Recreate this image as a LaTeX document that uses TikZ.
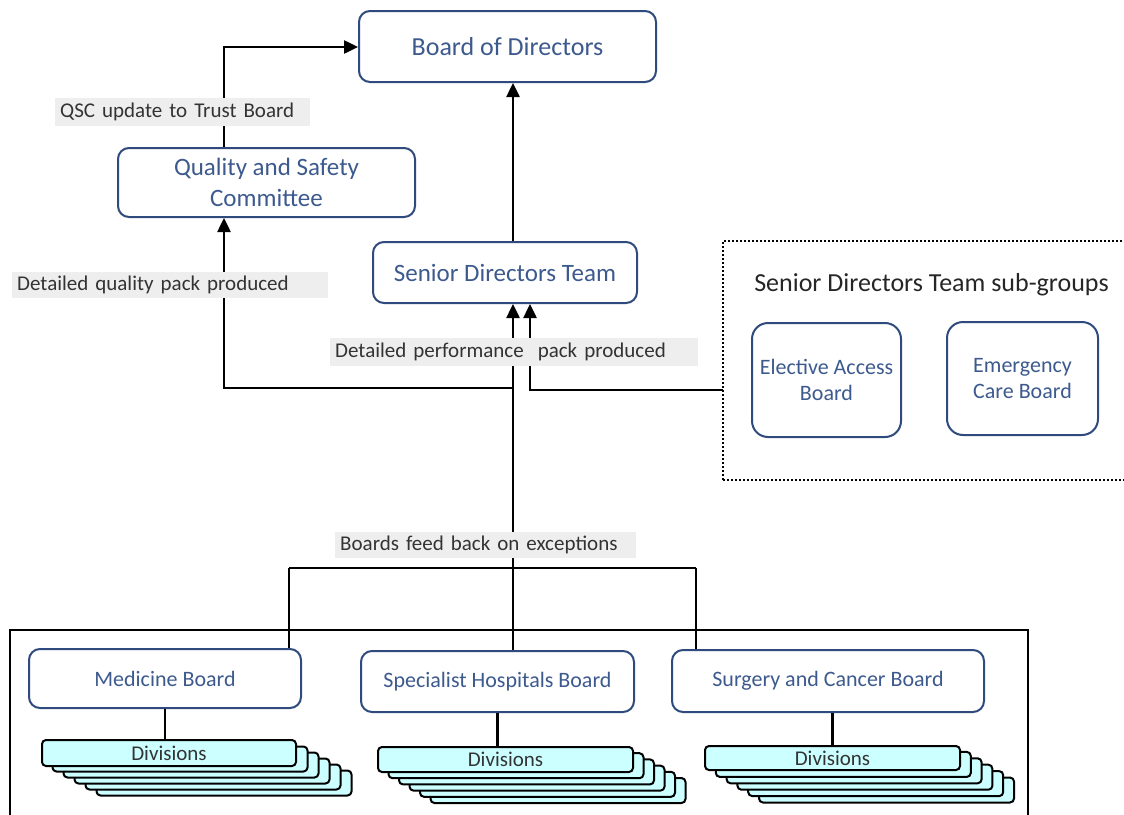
\documentclass[tikz,border=0pt]{standalone}
\usepackage{fontspec}
\setmainfont{Carlito}
\usetikzlibrary{arrows.meta,positioning}
\definecolor{boxblue}{HTML}{2F4B7E}
\definecolor{boxtext}{HTML}{3D5A8E}
\definecolor{labelgray}{HTML}{EEEEEE}
\definecolor{divcyan}{HTML}{CCFFFF}

\begin{document}
\begin{tikzpicture}[x=1pt,y=-1pt,
  board/.style={draw=boxblue, line width=2pt, rounded corners=11pt, fill=white,
    text=boxtext, align=center, inner sep=0pt},
  wire/.style={line width=2.5pt, black},
  upto/.style={wire, -{Triangle[length=14pt,width=13pt]}},
  packlabel/.style={fill=labelgray, text=black!80, anchor=west, align=left,
    inner xsep=5pt, inner ysep=0pt, font=\fontsize{21}{25}\selectfont},
  divcard/.style={draw=black, line width=2pt, fill=divcyan, rounded corners=4pt,
    inner sep=0pt, minimum width=255, minimum height=25, text=black!80,
    font=\fontsize{21}{25}\selectfont}]
\useasboundingbox (0,0) rectangle (1124,814);

% Top level
\node[board, minimum width=297, minimum height=71, font=\fontsize{26}{31}\selectfont] (bod) at (507.5,46.5) {Board of Directors};
\node[board, minimum width=297, minimum height=69, font=\fontsize{25}{31}\selectfont] (qsc) at (266.5,182.5) {Quality and Safety\\Committee};
\node[board, minimum width=264, minimum height=61, font=\fontsize{25}{31}\selectfont] (sdt) at (505,272.5) {Senior Directors Team};

% Sub-groups
\node[draw, line width=2pt, dash pattern=on 2pt off 2pt, minimum width=410, minimum height=239, inner sep=0pt] (subgrp) at (928,360.5) {};
\node[text=black!85, font=\fontsize{26}{31}\selectfont] (subtitle) at (931.5,285) {Senior Directors Team sub-groups};
\node[board, minimum width=149, minimum height=114, rounded corners=16pt, font=\fontsize{22}{26}\selectfont] (eab) at (826.5,380) {Elective Access\\Board};
\node[board, minimum width=151, minimum height=113, rounded corners=16pt, font=\fontsize{22}{26}\selectfont] (ecb) at (1022.5,378.5) {Emergency\\Care Board};

% Boards
\draw[line width=2pt] (10,630) rectangle (1028,830);
\node[board, minimum width=272, minimum height=59, font=\fontsize{22}{26}\selectfont] (med) at (165,678.5) {Medicine Board};
\node[board, minimum width=273, minimum height=61, font=\fontsize{22}{26}\selectfont] (shb) at (497.5,681.5) {Specialist Hospitals Board};
\node[board, minimum width=312, minimum height=62, font=\fontsize{22}{26}\selectfont] (scb) at (828,681) {Surgery and Cancer Board};

% Divisions stacks
\foreach \k in {5,4,3,2,1} {
  \node[divcard] (medd\k) at ({169+11*\k},{753+6*\k}) {};
  \node[divcard] (shd\k) at ({505.5+10.5*\k},{759.5+6.2*\k}) {};
  \node[divcard] (scd\k) at ({832.5+10.8*\k},{758+6.4*\k}) {};
}
\node[divcard, minimum width=254, minimum height=26] (medd) at (169,753) {Divisions};
\node[divcard] (shd) at (505.5,759.5) {Divisions};
\node[divcard, minimum height=24] (scd) at (832.5,758) {Divisions};

\draw[wire] (med.south) -- (med.south |- medd.north);
\draw[wire] (shb.south) -- (shb.south |- shd.north);
\draw[wire] (scd.north |- scb.south) -- (scd.north);

% Connectors
\coordinate (busL) at (289,568);
\coordinate (busM) at (513,568);
\coordinate (busR) at (696,568);
\coordinate (qup) at (224,47);
\coordinate (qcorner) at (224,388);
\coordinate (sgcorner) at (530,390);
\coordinate (subin) at (723,390);

\draw[wire] (busL) -- (busR);
\draw[wire] (busL) -- (busL |- med.north);
\draw[wire] (busR) -- (busR |- scb.north);
\draw[upto] (busM |- shb.north) -- (busM |- sdt.south);
\draw[upto] (busM |- qcorner) -- (qcorner) -- (qcorner |- qsc.south);
\draw[upto] (subin) -- (sgcorner) -- (sgcorner |- sdt.south);
\draw[upto] (busM |- sdt.north) -- (busM |- bod.south);
\draw[upto] (qup |- qsc.north) -- (qup) -- (qup -| bod.west);

% Labels
\node[packlabel, minimum width=255, minimum height=28, text width=245] (qsclbl) at (55,112) {QSC update to Trust Board};
\node[packlabel, minimum width=316, minimum height=26, text width=306] (qlbl) at (12,285) {Detailed quality pack produced};
\node[packlabel, minimum width=368, minimum height=28, text width=358, inner xsep=2pt] (plbl) at (330,352) {Detailed performance~ pack produced};
\node[packlabel, minimum width=301, minimum height=26, text width=291] (fblbl) at (335,545) {Boards feed back on exceptions};
\end{tikzpicture}
\end{document}
